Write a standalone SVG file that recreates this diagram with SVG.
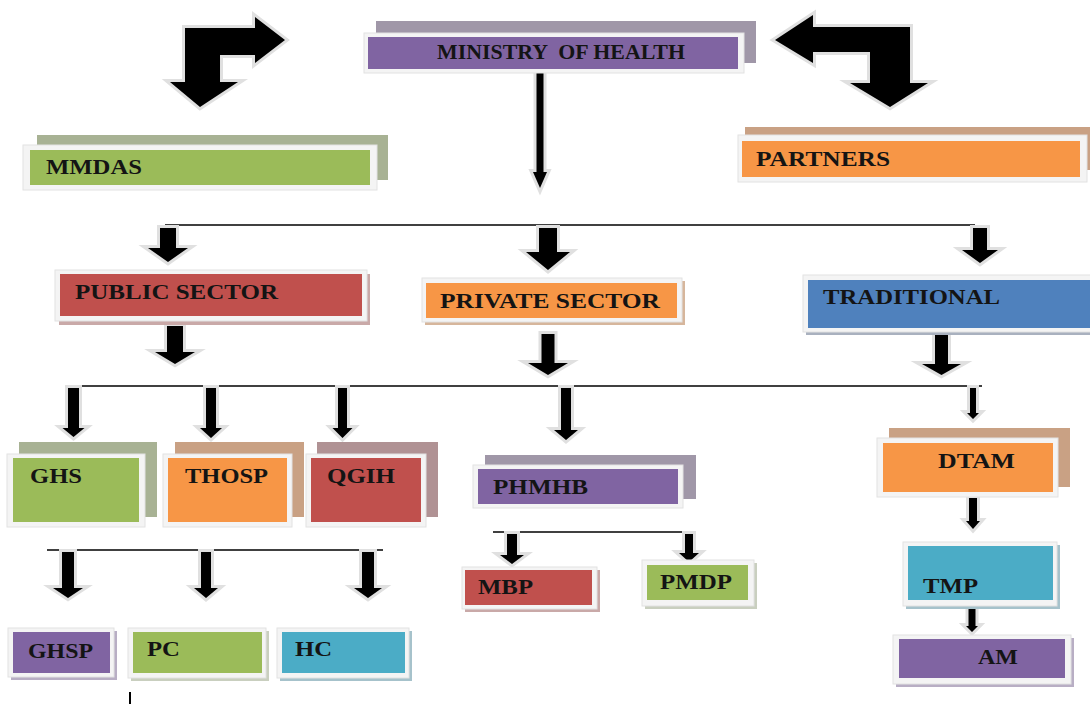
<svg xmlns="http://www.w3.org/2000/svg" width="1090" height="704" viewBox="0 0 1090 704">
<style>
.frame{fill:#f4f4f4;stroke:#e2e2e2;stroke-width:1}
.purple{fill:#8064a2}.purpleb{fill:#a097a8}
.green{fill:#9bbb59}.greenb{fill:#a8b294}
.orange{fill:#f79646}.orangeb{fill:#c9a184}
.red{fill:#c0504d}.redb{fill:#b09294}
.blue{fill:#4f81bd}.teal{fill:#4bacc6}
.t{font-family:"Liberation Serif","Times New Roman",serif;font-weight:bold;font-size:21px;fill:#141414}
.arr{fill:#000;stroke:#e0e0e0;stroke-width:6;paint-order:stroke;stroke-linejoin:miter}
.ln{stroke:#000;stroke-width:1.5;fill:none}
</style>
<rect width="1090" height="704" fill="#fff"/>

<g id="connectors">
<path class="arr" d="M185,28 L255,28 L255,17 L285,40 L255,63 L255,55 L220,55 L220,82 L238,82 L200,107 L170,82 L185,82 Z"/>
<path class="arr" d="M775,40 L813,15 L813,27 L910,27 L910,83 L928,83 L890,107 L850,83 L870,83 L870,52 L813,52 L813,63 Z"/>
<path class="arr" d="M536.5,73 H543.5 V172 H547 L540,188 L533,172 H536.5 Z"/>
<line class="ln" x1="165" y1="225" x2="975" y2="225"/>
<path class="arr" d="M160,228 H176 V248 H188 L168,262 L148,248 H160 Z"/>
<path class="arr" d="M539,228 H557 V252 H570 L548,270 L526,252 H539 Z"/>
<path class="arr" d="M973,228 H987 V250 H998 L980,263 L962,250 H973 Z"/>
<path class="arr" d="M167,326 H183 V352 H195 L175,364 L155,352 H167 Z"/>
<path class="arr" d="M541.5,334 H554.5 V363 H568 L548,375 L528,363 H541.5 Z"/>
<path class="arr" d="M935,335 H948 V364 H961 L941.5,375 L922,364 H935 Z"/>
<line class="ln" x1="65" y1="386" x2="982" y2="386"/>
<path class="arr" d="M68,388 H79 V428 H84.5 L73.5,437 L62.5,428 H68 Z"/>
<path class="arr" d="M206,388 H216 V428 H222 L211,438 L200,428 H206 Z"/>
<path class="arr" d="M338,388 H347 V428 H352.5 L342.5,438 L332.5,428 H338 Z"/>
<path class="arr" d="M561,388 H571 V430 H578 L566,440 L554,430 H561 Z"/>
<path class="arr" d="M970,388 H976 V413 H979 L973,419 L967,413 H970 Z"/>
<line class="ln" x1="493" y1="532" x2="690" y2="532"/>
<path class="arr" d="M507,534 H517 V555 H524 L512,564 L500,555 H507 Z"/>
<path class="arr" d="M685,534 H693 V553 H699 L689,562 L679,553 H685 Z"/>
<path class="arr" d="M969,498 H977 V521 H980 L973,529 L966,521 H969 Z"/>
<path class="arr" d="M968.5,608 H975.5 V626 H978 L972,632 L966,626 H968.5 Z"/>
<line class="ln" x1="47" y1="550" x2="383" y2="550"/>
<path class="arr" d="M62,552 H74 V588 H83 L68,598 L53,588 H62 Z"/>
<path class="arr" d="M201,552 H211 V588 H218 L206,598 L194,588 H201 Z"/>
<path class="arr" d="M362,552 H374 V588 H382 L368,598 L354,588 H362 Z"/>
<line x1="130" y1="692" x2="130" y2="704" stroke="#000" stroke-width="2"/>
</g>

<g id="ministry">
<rect class="purpleb" x="376" y="21" width="380" height="42"/>
<rect class="frame" x="364" y="33" width="380" height="40"/>
<rect class="purple" x="368" y="37" width="370" height="32"/>
<text class="t" x="437" y="59" textLength="248" lengthAdjust="spacingAndGlyphs" xml:space="preserve">MINISTRY  OF HEALTH</text>
</g>

<g id="mmdas">
<rect class="greenb" x="37" y="135" width="351" height="45"/>
<rect class="frame" x="23" y="145" width="354" height="45"/>
<rect class="green" x="30" y="150" width="340" height="35"/>
<text class="t" x="46" y="174" textLength="96" lengthAdjust="spacingAndGlyphs">MMDAS</text>
</g>

<g id="partners">
<rect class="orangeb" x="745" y="127" width="345" height="43"/>
<rect class="frame" x="738" y="135" width="349" height="47"/>
<rect class="orange" x="742" y="141" width="338" height="36"/>
<text class="t" x="756" y="166" textLength="134" lengthAdjust="spacingAndGlyphs">PARTNERS</text>
</g>

<g id="public">
<rect x="59" y="274" width="311" height="51" fill="#c9a9a8"/>
<rect class="frame" x="55" y="270" width="312" height="51"/>
<rect class="red" x="60" y="274" width="302" height="42"/>
<text class="t" x="75" y="299" textLength="203" lengthAdjust="spacingAndGlyphs">PUBLIC SECTOR</text>
</g>

<g id="private">
<rect x="425" y="281" width="260" height="44" fill="#d6b69c"/>
<rect class="frame" x="422" y="278" width="260" height="44"/>
<rect class="orange" x="426" y="283" width="251" height="35"/>
<text class="t" x="440" y="308" textLength="220" lengthAdjust="spacingAndGlyphs">PRIVATE SECTOR</text>
</g>

<g id="traditional">
<rect x="806" y="279" width="290" height="56" fill="#a9b1bf"/>
<rect class="frame" x="803" y="275" width="290" height="57"/>
<rect class="blue" x="808" y="280" width="285" height="48"/>
<text class="t" x="823" y="304" textLength="177" lengthAdjust="spacingAndGlyphs">TRADITIONAL</text>
</g>

<g id="ghs">
<rect class="greenb" x="19" y="442" width="138" height="75"/>
<rect class="frame" x="7" y="454" width="138" height="73"/>
<rect class="green" x="13" y="458" width="126" height="64"/>
<text class="t" x="30" y="483" textLength="52" lengthAdjust="spacingAndGlyphs">GHS</text>
</g>

<g id="thosp">
<rect class="orangeb" x="175" y="442" width="129" height="75"/>
<rect class="frame" x="163" y="454" width="129" height="73"/>
<rect class="orange" x="168" y="458" width="119" height="64"/>
<text class="t" x="185" y="483" textLength="83" lengthAdjust="spacingAndGlyphs">THOSP</text>
</g>

<g id="qgih">
<rect class="redb" x="317" y="442" width="121" height="75"/>
<rect class="frame" x="306" y="454" width="120" height="73"/>
<rect class="red" x="311" y="458" width="110" height="64"/>
<text class="t" x="327" y="483" textLength="68" lengthAdjust="spacingAndGlyphs">QGIH</text>
</g>

<g id="phmhb">
<rect class="purpleb" x="485" y="455" width="211" height="44"/>
<rect class="frame" x="473" y="465" width="210" height="43"/>
<rect class="purple" x="478" y="469" width="200" height="35"/>
<text class="t" x="493" y="494" textLength="95" lengthAdjust="spacingAndGlyphs">PHMHB</text>
</g>

<g id="mbp">
<rect x="465" y="570" width="135" height="42" fill="#c9a9a8"/>
<rect class="frame" x="462" y="567" width="135" height="42"/>
<rect class="red" x="465" y="570" width="127" height="35"/>
<text class="t" x="478" y="594" textLength="55" lengthAdjust="spacingAndGlyphs">MBP</text>
</g>

<g id="pmdp">
<rect x="645" y="563" width="112" height="46" fill="#c9cfbf"/>
<rect class="frame" x="642" y="560" width="112" height="46"/>
<rect class="green" x="647" y="565" width="101" height="35"/>
<text class="t" x="660" y="589" textLength="72" lengthAdjust="spacingAndGlyphs">PMDP</text>
</g>

<g id="dtam">
<rect class="orangeb" x="889" y="428" width="181" height="59"/>
<rect class="frame" x="877" y="438" width="181" height="59"/>
<rect class="orange" x="883" y="443" width="170" height="49"/>
<text class="t" x="938" y="468" textLength="77" lengthAdjust="spacingAndGlyphs">DTAM</text>
</g>

<g id="tmp">
<rect x="906" y="545" width="154" height="64" fill="#a6c2cb"/>
<rect class="frame" x="903" y="542" width="154" height="64"/>
<rect class="teal" x="908" y="546" width="145" height="54"/>
<text class="t" x="923" y="593" textLength="55" lengthAdjust="spacingAndGlyphs">TMP</text>
</g>

<g id="am">
<rect x="896" y="638" width="178" height="49" fill="#b8aec4"/>
<rect class="frame" x="893" y="635" width="178" height="49"/>
<rect class="purple" x="899" y="639" width="166" height="39"/>
<text class="t" x="978" y="664" textLength="40" lengthAdjust="spacingAndGlyphs">AM</text>
</g>

<g id="ghsp">
<rect x="11" y="631" width="106" height="49" fill="#b8aec4"/>
<rect class="frame" x="8" y="628" width="106" height="49"/>
<rect class="purple" x="13" y="632" width="97" height="41"/>
<text class="t" x="28" y="658" textLength="65" lengthAdjust="spacingAndGlyphs">GHSP</text>
</g>

<g id="pc">
<rect x="131" y="631" width="138" height="50" fill="#c9cfbf"/>
<rect class="frame" x="128" y="628" width="138" height="50"/>
<rect class="green" x="133" y="632" width="129" height="41"/>
<text class="t" x="147" y="656" textLength="33" lengthAdjust="spacingAndGlyphs">PC</text>
</g>

<g id="hc">
<rect x="280" y="631" width="132" height="50" fill="#a6c2cb"/>
<rect class="frame" x="277" y="628" width="132" height="50"/>
<rect class="teal" x="282" y="632" width="123" height="41"/>
<text class="t" x="295" y="656" textLength="37" lengthAdjust="spacingAndGlyphs">HC</text>
</g>
</svg>
